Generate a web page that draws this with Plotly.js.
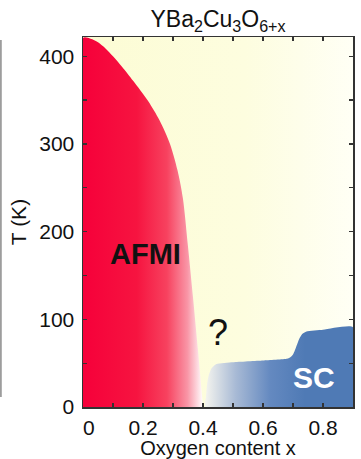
<!DOCTYPE html>
<html>
<head>
<meta charset="utf-8">
<script src="https://cdn.plot.ly/plotly-3.0.1.min.js"></script>
<style>html,body{margin:0;padding:0;background:#fff;}#chart{width:361px;height:459px;}</style>
</head>
<body>
<div id="chart"></div>
<script>
// Axis ranges
const xRange = [0, 0.9];
const yRange = [0, 422];
// AFMI boundary (Neel temperature) vs oxygen content
const afmX = [0, 0.025, 0.05, 0.075, 0.1, 0.13, 0.167, 0.217, 0.255, 0.29, 0.315, 0.333, 0.35, 0.367, 0.383, 0.40];
const afmT = [421, 420, 416, 409, 400, 388, 372, 349, 327, 300, 270, 238, 183, 124, 66, 0];
// SC boundary (Tc) vs oxygen content
const scX = [0.408, 0.41, 0.414, 0.419, 0.428, 0.445, 0.5, 0.6, 0.68, 0.69, 0.70, 0.71, 0.72, 0.73, 0.745, 0.8, 0.9];
const scT = [0, 12, 27, 36, 44, 49, 51, 53, 55, 56.5, 60, 68, 77, 83, 86, 88, 91];
// Tick labels
const xTickVals = [0, 0.2, 0.4, 0.6, 0.8];
const xTickText = ['\u00a0\u00a00', '0.2', '0.4', '0.6', '0.8'];
const yTickVals = [0, 100, 200, 300, 400];
const yTickText = ['0', '100', '200', '300', '400'];

const font = 'Liberation Sans, Arial, Helvetica, sans-serif';

const bg = {
  x: [xRange[0], xRange[1], xRange[1], xRange[0], xRange[0]],
  y: [yRange[0], yRange[0], yRange[1], yRange[1], yRange[0]],
  mode: 'lines', fill: 'toself', line: {width: 0},
  fillgradient: {type: 'horizontal', start: xRange[0], stop: xRange[1],
    colorscale: [[0, '#fcfcd4'], [0.6, '#fdfddf'], [1, '#fffff5']]},
  hoverinfo: 'skip', showlegend: false
};
const afm = {
  x: [0].concat(afmX), y: [0].concat(afmT),
  mode: 'lines', fill: 'toself', line: {width: 0, shape: 'spline', smoothing: 0.8},
  fillgradient: {type: 'horizontal', start: 0, stop: 0.4,
    colorscale: [[0, '#f6003a'], [0.45, '#f61440'], [0.7, '#f7425f'], [0.87, '#f995a6'], [1, '#ffffff']]},
  hoverinfo: 'skip', showlegend: false
};
const sc = {
  x: scX.concat([scX[scX.length - 1], scX[0]]), y: scT.concat([0, 0]),
  mode: 'lines', fill: 'toself', line: {width: 0, shape: 'spline', smoothing: 0.5},
  fillgradient: {type: 'horizontal', start: 0.41, stop: 0.74,
    colorscale: [[0, '#f3f3ee'], [0.3, '#a8bad5'], [0.65, '#6489c0'], [1, '#4f7ab5']]},
  hoverinfo: 'skip', showlegend: false
};

const layout = {
  width: 361, height: 459,
  margin: {l: 83, r: 8, t: 37, b: 52},
  paper_bgcolor: '#ffffff', plot_bgcolor: '#ffffff',
  font: {family: font, color: '#111', size: 21},
  title: {text: 'YBa<sub>2</sub>Cu<sub>3</sub>O<sub>6+x</sub>', x: 0.5, xref: 'paper', xanchor: 'center',
    y: 0.958, yref: 'container', yanchor: 'middle', font: {family: font, size: 23, color: '#111'}},
  xaxis: {range: xRange, tickvals: xTickVals, ticktext: xTickText,
    ticks: 'inside', ticklen: 4, tickwidth: 1.3, tickcolor: '#333',
    minor: {ticks: 'inside', ticklen: 4, tickwidth: 1.3, tickcolor: '#333', dtick: 0.1, tick0: 0},
    showline: true, mirror: 'ticks', linecolor: '#333', linewidth: 1.5,
    showgrid: false, zeroline: false, fixedrange: true,
    tickfont: {size: 21}, ticklabelstandoff: 1,
    title: {text: 'Oxygen content x', font: {size: 20}, standoff: 6}},
  yaxis: {range: yRange, tickvals: yTickVals, ticktext: yTickText,
    ticks: 'inside', ticklen: 4, tickwidth: 1.3, tickcolor: '#333',
    minor: {ticks: 'inside', ticklen: 4, tickwidth: 1.3, tickcolor: '#333', dtick: 50, tick0: 0},
    showline: true, mirror: 'ticks', linecolor: '#333', linewidth: 1.5,
    showgrid: false, zeroline: false, fixedrange: true,
    tickfont: {size: 21}, ticklabelstandoff: 3,
    title: {text: 'T (K)', font: {size: 21}, standoff: 7}},
  annotations: [
    {x: 0.207, y: 174, xref: 'x', yref: 'y', text: '<b>AFMI</b>', showarrow: false,
      font: {family: font, size: 29, color: '#111'}},
    {x: 0.45, y: 85, xref: 'x', yref: 'y', text: '?', showarrow: false,
      font: {family: font, size: 36, color: '#111'}},
    {x: 0.77, y: 34, xref: 'x', yref: 'y', text: '<b>SC</b>', showarrow: false,
      font: {family: font, size: 30, color: '#ffffff'}}
  ],
  shapes: [
    {type: 'line', xref: 'paper', yref: 'paper', x0: -0.304, x1: -0.304, y0: 0.027, y1: 0.992,
      line: {color: '#8a8a8a', width: 1.5}}
  ]
};

Plotly.newPlot('chart', [bg, afm, sc], layout, {staticPlot: true, displayModeBar: false});
</script>
</body>
</html>
